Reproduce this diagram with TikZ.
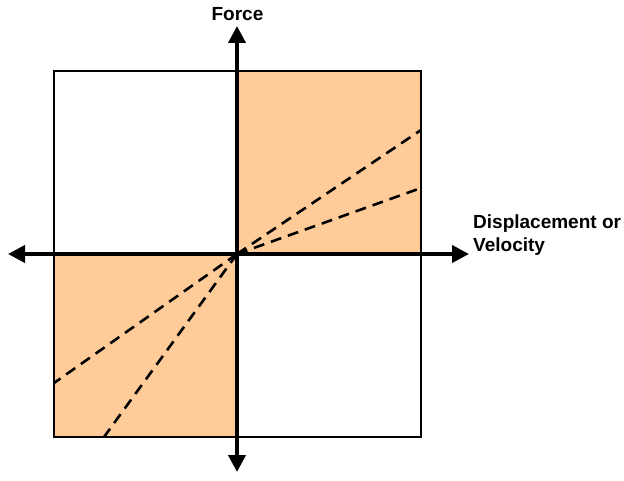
\documentclass[tikz,border=0pt]{standalone}
\usepackage{fontspec}
\setmainfont{Liberation Sans}
\usetikzlibrary{arrows.meta}
\begin{document}
\begin{tikzpicture}[x=1pt,y=-1pt,
  quad/.style={fill=peach,draw=none},
  frame/.style={draw=black,line width=1.3pt},
  axis/.style={line width=3.8pt,-{Triangle[length=17pt,width=17pt]}},
  ray/.style={line width=2.6pt,dash pattern=on 11pt off 7pt},
  lab/.style={font=\bfseries\fontsize{19}{23.3}\selectfont,inner sep=0pt,align=left}]
\definecolor{peach}{HTML}{FFCC99}
\useasboundingbox (0,0) rectangle (624,481);
\coordinate (O) at (237,254);
\coordinate (TL) at (54,71);
\coordinate (BR) at (421,437);
\fill[peach] (O) rectangle (421,71);
\fill[peach] (O) rectangle (54,437);
\coordinate (r1) at (421,130);
\coordinate (r2) at (421,188);
\coordinate (l1) at (54,383);
\coordinate (l2) at (104,437);
\draw[ray] (O) -- (r1);
\draw[ray] (O) -- (r2);
\draw[ray] (O) -- (l1);
\draw[ray] (O) -- (l2);
\draw[frame] (TL) rectangle (BR);
\coordinate (up) at (237,26);
\coordinate (down) at (237,472);
\coordinate (left) at (8,254);
\coordinate (right) at (469,254);
\draw[axis] (O) -- (up);
\draw[axis] (O) -- (down);
\draw[axis] (O) -- (left);
\draw[axis] (O) -- (right);
\node[lab,anchor=base] (force) at (237.5,20.7) {Force};
\node[lab,anchor=base west] (disp) at (473,251.7) {Displacement or\\Velocity};
\end{tikzpicture}
\end{document}
